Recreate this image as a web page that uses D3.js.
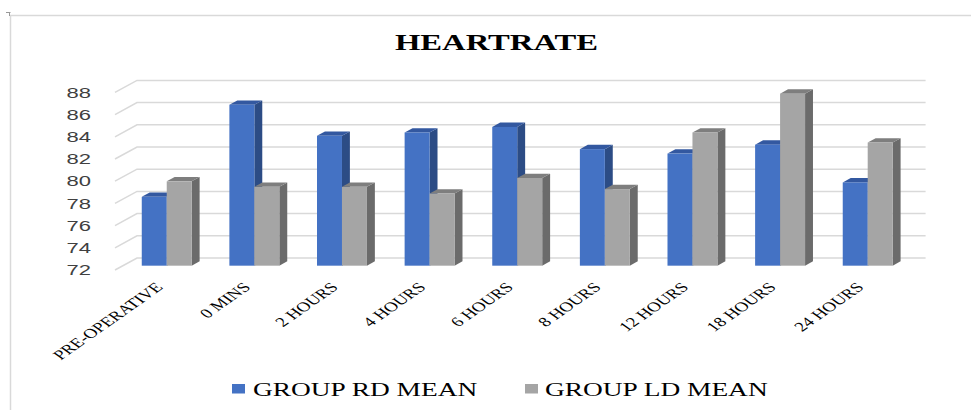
<!DOCTYPE html>
<html>
<head>
<meta charset="utf-8">
<script src="https://cdn.jsdelivr.net/npm/d3@7/dist/d3.min.js"></script>
<style>
  html, body { margin: 0; padding: 0; background: #fff; }
  svg { display: block; }
</style>
</head>
<body>
<svg id="chart" width="971" height="410"></svg>
<script>
// Heart rate means per time point, two groups
const categories = ["PRE-OPERATIVE", "0 MINS", "2 HOURS", "4 HOURS", "6 HOURS",
                    "8 HOURS", "12 HOURS", "18 HOURS", "24 HOURS"];
const rdMean = [78.2, 86.5, 83.7, 84.0, 84.5, 82.5, 82.1, 82.9, 79.5];
const ldMean = [79.6, 79.1, 79.1, 78.5, 79.9, 78.9, 84.0, 87.5, 83.1];
const seriesNames = ["GROUP RD MEAN", "GROUP LD MEAN"];
const yTicks = [72, 74, 76, 78, 80, 82, 84, 86, 88];
const titleText = "HEARTRATE";

const W = 971, H = 410;
const svg = d3.select("#chart");
const SX = 1.42; // horizontal text stretch

// oblique 3D frame: full depth offset of the floor / back wall
const DX = 22, DY = -12;
const barDepthStart = 0.36, barDepthEnd = 0.72;

const x = d3.scaleBand().domain(categories).range([115, 903.6]);
// pair of bars occupies ~57% of each band, centered
const pairFrac = 0.57;
const pad = (1 - pairFrac) / 2;
const inner = d3.scaleBand().domain(seriesNames)
  .range([x.bandwidth() * pad, x.bandwidth() * (1 - pad)]);

const y = d3.scaleLinear().domain([72, 88]).range([270, 270 - 16 * 11.1]);

const colors = {
  "GROUP RD MEAN": { front: "#4472c4", side: "#2c4c85", top: "#3358a0" },
  "GROUP LD MEAN": { front: "#a5a5a5", side: "#6b6b6b", top: "#7e7e7e" }
};

// chart frame (top and left edges)
svg.append("path")
  .attr("d", `M10.5,${H} V15.5 H${W}`)
  .attr("fill", "none").attr("stroke", "#d9d9d9").attr("stroke-width", 1.5);
svg.append("path")
  .attr("d", "M6,12.5 H10.5 M9.5,12 V16")
  .attr("fill", "none").attr("stroke", "#999").attr("stroke-width", 1);

function stretchedText(g, tx, ty, txt, extra) {
  return g.append("text")
    .attr("transform", `translate(${tx},${ty}) scale(${SX},1)` + (extra || ""))
    .text(txt);
}

// title
stretchedText(svg, 496.5, 50, titleText)
  .attr("text-anchor", "middle")
  .attr("font-family", "'Liberation Serif', 'Times New Roman', serif")
  .attr("font-weight", "bold").attr("font-size", 23).attr("fill", "#000");

// gridlines: left wall diagonals + back wall horizontals
const grid = svg.append("g").attr("stroke", "#d9d9d9").attr("stroke-width", 1.5).attr("fill", "none");
const x0 = x.range()[0], x1 = x.range()[1];
yTicks.forEach(v => {
  const yy = y(v);
  grid.append("path")
    .attr("d", `M${x0},${yy} L${x0 + DX},${yy + DY} L${x1 + DX},${yy + DY}`);
});

// y axis labels
const yLab = svg.append("g")
  .attr("font-family", "'Liberation Sans', Arial, sans-serif")
  .attr("font-size", 15.5).attr("fill", "#404040");
yTicks.forEach(v => {
  stretchedText(yLab, 91, y(v), String(v))
    .attr("text-anchor", "end").attr("dominant-baseline", "central");
});

// 3D bars: side, top, then front face
const bars = svg.append("g");
const ox = DX * barDepthStart, oy = DY * barDepthStart;
const bdx = DX * (barDepthEnd - barDepthStart), bdy = DY * (barDepthEnd - barDepthStart);
categories.forEach((c, i) => {
  const vals = [rdMean[i], ldMean[i]];
  seriesNames.forEach((s, k) => {
    const v = vals[k];
    const xl = x(c) + inner(s) + ox;
    const xr = xl + inner.bandwidth();
    const yb = y(72) + oy;
    const yt = y(v) + oy;
    const col = colors[s];
    const g = bars.append("g");
    g.append("path")
      .attr("d", `M${xr},${yb} L${xr + bdx},${yb + bdy} L${xr + bdx},${yt + bdy} L${xr},${yt} Z`)
      .attr("fill", col.side);
    g.append("path")
      .attr("d", `M${xl},${yt} L${xl + bdx},${yt + bdy} L${xr + bdx},${yt + bdy} L${xr},${yt} Z`)
      .attr("fill", col.top);
    g.append("rect")
      .attr("x", xl).attr("y", yt).attr("width", xr - xl).attr("height", yb - yt)
      .attr("fill", col.front);
  });
});

// category labels
const xLab = svg.append("g")
  .attr("font-family", "'Liberation Serif', 'Times New Roman', serif")
  .attr("font-size", 13.5).attr("fill", "#000");
categories.forEach(c => {
  const cx = x(c) + x.bandwidth() / 2;
  stretchedText(xLab, cx + 5, 288, c, " rotate(-45)")
    .attr("text-anchor", "end");
});

// legend
const legend = svg.append("g")
  .attr("font-family", "'Liberation Serif', 'Times New Roman', serif")
  .attr("font-size", 19.3).attr("fill", "#000");
const legendPos = [{ sq: 232, tx: 253 }, { sq: 525, tx: 545 }];
seriesNames.forEach((s, k) => {
  legend.append("rect")
    .attr("x", legendPos[k].sq).attr("y", 384).attr("width", 13).attr("height", 9.5)
    .attr("fill", colors[s].front);
  stretchedText(legend, legendPos[k].tx, 395.5, s);
});
</script>
</body>
</html>
